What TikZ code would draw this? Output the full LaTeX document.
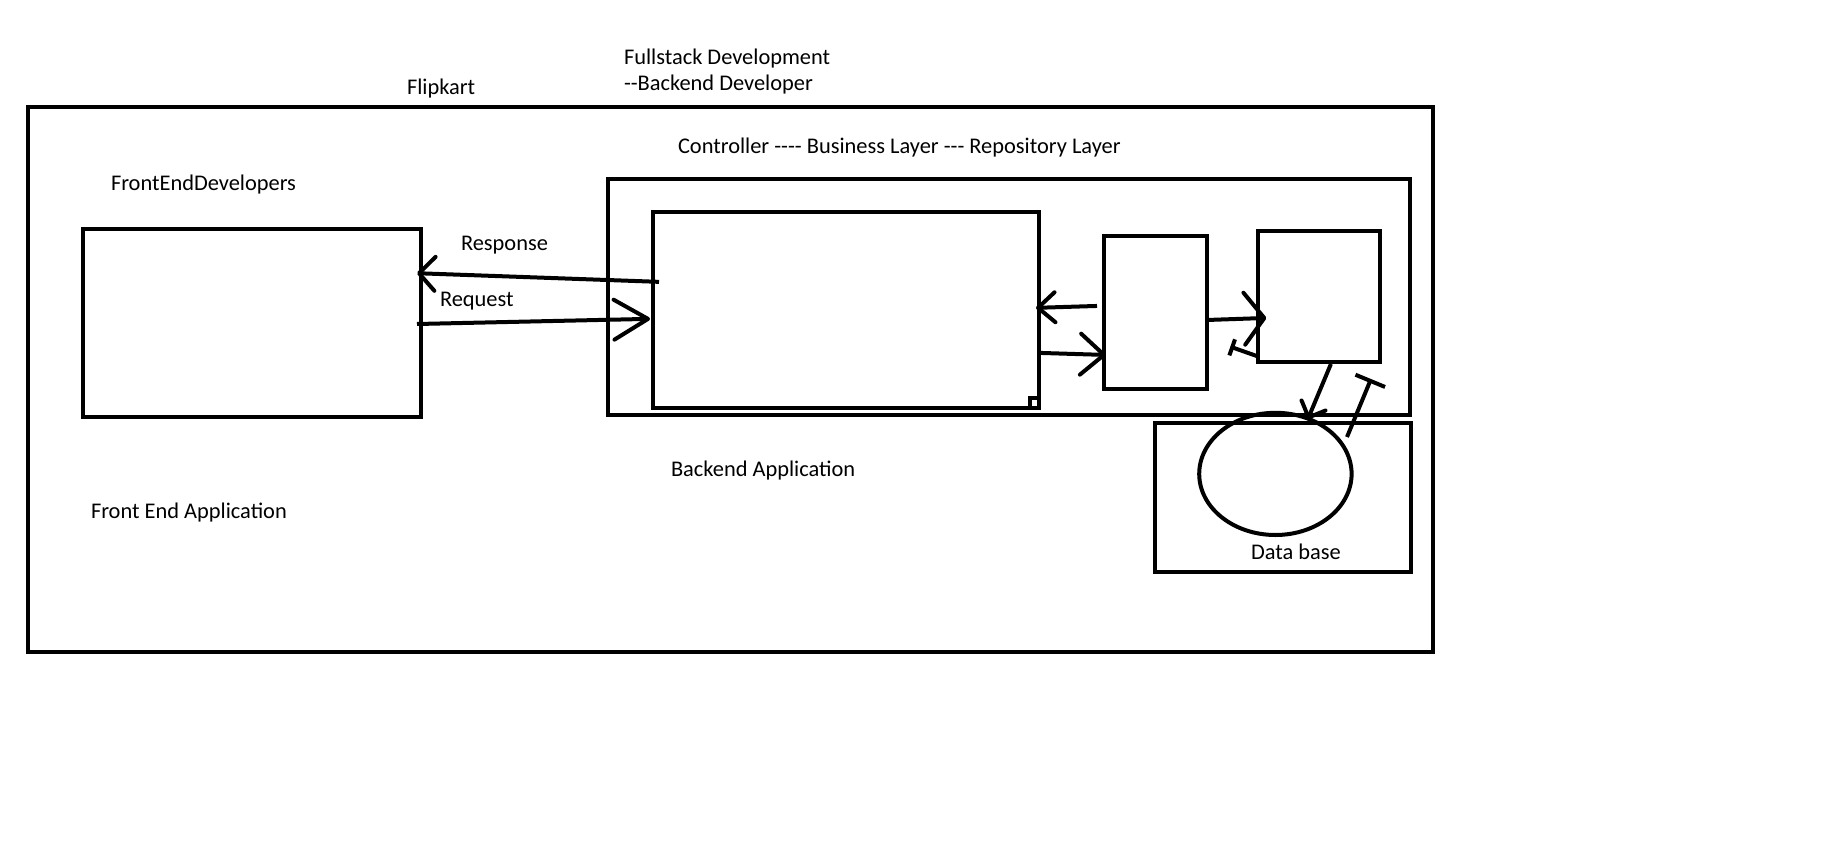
\documentclass[tikz,border=0pt]{standalone}
\usepackage{fontspec}
\setmainfont{Carlito}
\usetikzlibrary{arrows.meta,calc,positioning,shapes.geometric}

\begin{document}
\begin{tikzpicture}[x=0.5pt,y=-0.5pt,line width=2pt,
    font=\fontsize{11.2}{13.4}\selectfont]
\tikzstyle{box}=[draw,rectangle,inner sep=0pt,outer sep=0pt]
\tikzstyle{lbl}=[inner sep=0pt,anchor=base west,xshift=-1.5pt]
\useasboundingbox (0,0) rectangle (1836,862);
% boxes
\node[box,minimum width=702.25pt,minimum height=272.9pt] (flipkart) at (730.25,379.4) {};
\node[box,minimum width=168.75pt,minimum height=93.85pt] (front) at (251.75,323.2) {};
\node[box,minimum width=400.75pt,minimum height=117.9pt] (backend) at (1008.75,296.6) {};
\node[box,minimum width=193pt,minimum height=98.15pt] (ctrl) at (846,309.85) {};
\node[box,minimum width=51.25pt,minimum height=76.25pt] (business) at (1155.25,312.45) {};
\node[box,minimum width=60.6pt,minimum height=65.25pt] (repo) at (1318.9,296.45) {};
\node[box,minimum width=127.75pt,minimum height=74.2pt] (db) at (1282.75,497.5) {};
\node[draw,ellipse,inner sep=0pt,minimum width=76.2pt,minimum height=61.1pt] (disk) at (1275.4,473.9) {};
\draw ($(ctrl.south east)+(-9.5,-10)$) rectangle (ctrl.south east);
% texts
\node[lbl] (flip) at (408,94) {Flipkart};
\node[lbl] (full) at (625,64) {Fullstack Development};
\node[lbl] (bdev) at (625,90) {-{}-Backend Developer};
\node[lbl] (layers) at (679,153) {Controller -{}-{}-{}- Business Layer -{}-{}- Repository Layer};
\node[lbl] (fedev) at (112,190) {FrontEndDevelopers};
\node[lbl] (resp) at (462,250) {Response};
\node[lbl] (req) at (441,306) {Request};
\node[lbl] (beapp) at (672,476) {Backend Application};
\node[lbl] (feapp) at (92,518) {Front End Application};
\node[lbl] (dbtxt) at (1252,559) {Data base};
% connectors
\draw[-{Straight Barb[length=8pt,width=17pt,round]}] ($(ctrl.west)+(6,-28)$) -- ($(front.east)+(-3.5,-50)$);
\draw[-{Straight Barb[length=17pt,width=20pt,round]}] ($(front.east)+(-3.5,0.8)$) -- ($(ctrl.west)+(-3,9)$);
\draw[-{Straight Barb[length=8.5pt,width=15pt,round]}] ($(business.west)+(-7,-6.5)$) -- ($(ctrl.east)+(-3,-2)$);
\draw[-{Straight Barb[length=11.75pt,width=20.5pt,round]}] ($(ctrl.east)+(-1,43)$) -- ($(business.west)+(2,42.5)$);
\draw[-{Straight Barb[length=10pt,width=26pt,round]}] ($(business.east)+(1.5,7.5)$) -- ($(repo.west)+(8,21.5)$);
\draw[-{Bar[width=8.5pt]}] ($(repo.south west)+(-1,-5.5)$) -- ($(repo.south west)+(-28,-15)$);
\draw[-{Straight Barb[length=6.5pt,width=13pt,round]}] ($(repo.south)+(12,2.3)$) -- ($(db.north)+(25,-4)$);
\draw[-{Bar[width=16pt]}] ($(db.north east)+(-63.5,13.7)$) -- ($(db.north east)+(-39.5,-44.3)$);
\end{tikzpicture}
\end{document}
